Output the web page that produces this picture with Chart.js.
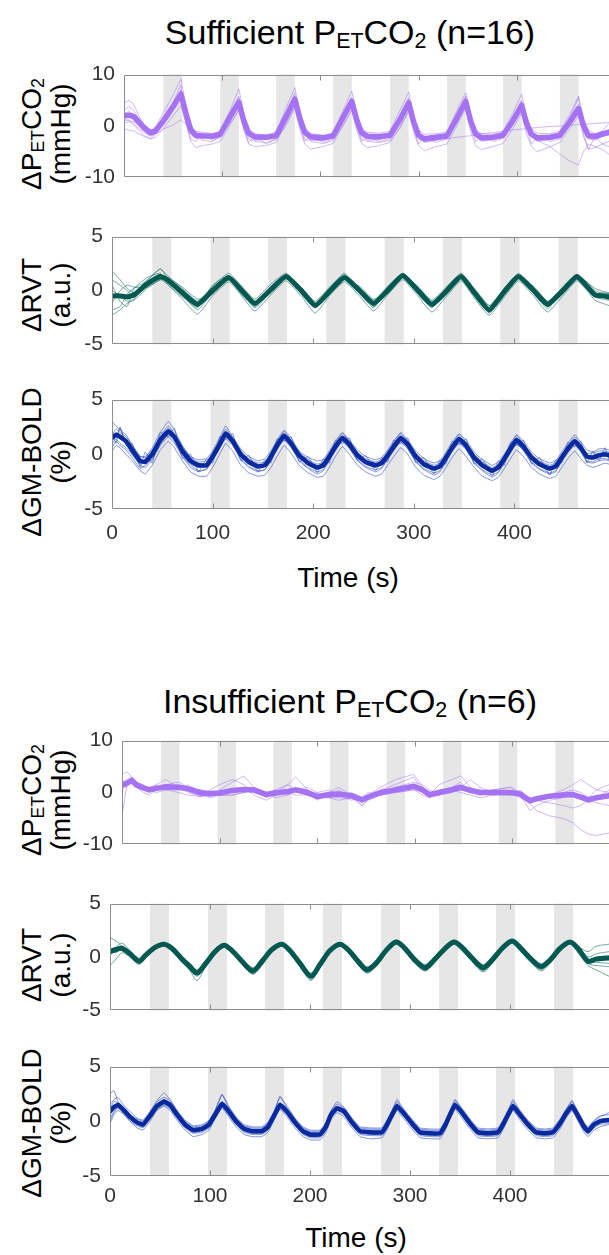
<!DOCTYPE html>
<html>
<head>
<meta charset="utf-8">
<script src="https://cdn.jsdelivr.net/npm/chart.js"></script>
<style>
html,body{margin:0;padding:0;background:#fff;overflow:hidden;}
#wrap{position:relative;width:609px;height:1255px;overflow:hidden;font-family:"Liberation Sans",Arial,Helvetica,sans-serif;color:#000;}
#wrap canvas{position:absolute;left:0;}
.gtitle{position:absolute;left:350px;transform:translateX(-50%);white-space:nowrap;font-size:34px;line-height:34px;}
.ytitle{position:absolute;width:240px;height:58.6px;font-size:28px;line-height:29.3px;text-align:center;white-space:nowrap;transform:translate(-50%,-50%) rotate(-90deg);}
.xtitle{position:absolute;transform:translateX(-50%);font-size:28px;line-height:28px;white-space:nowrap;}
sub{font-size:0.63em;vertical-align:-0.2em;line-height:0;}
</style>
</head>
<body>
<div id="wrap">
  <div class="gtitle" style="top:15px">Sufficient P<sub>ET</sub>CO<sub>2</sub> (n=16)</div>
  <div class="gtitle" style="top:684px">Insufficient P<sub>ET</sub>CO<sub>2</sub> (n=6)</div>
  <div class="ytitle" style="left:45.6px;top:134px">ΔP<sub>ET</sub>CO<sub>2</sub><br>(mmHg)</div>
  <div class="ytitle" style="left:45.6px;top:295px">ΔRVT<br>(a.u.)</div>
  <div class="ytitle" style="left:45.6px;top:462px">ΔGM-BOLD<br>(%)</div>
  <div class="ytitle" style="left:45.6px;top:800px">ΔP<sub>ET</sub>CO<sub>2</sub><br>(mmHg)</div>
  <div class="ytitle" style="left:45.6px;top:965px">ΔRVT<br>(a.u.)</div>
  <div class="ytitle" style="left:45.6px;top:1123px">ΔGM-BOLD<br>(%)</div>
  <div class="xtitle" style="left:348px;top:564px">Time (s)</div>
  <div class="xtitle" style="left:356px;top:1224px">Time (s)</div>
</div>
<script>
// ---------- axis tick values ----------
const petTicks = [-10, 0, 10];
const rvtTicks = [-5, 0, 5];
const boldTicks = [-5, 0, 5];
const timeTicks = [0, 100, 200, 300, 400];

// ---------- grey stimulus blocks (s) ----------
const stimBlocks = [[40,59],[98,117],[155,174],[213,232],[271,290],[329,348],[386,405],[444,463]];

// ---------- Sufficient PETCO2 (n=16) ----------
const tSufPet = [0,5,10,15,20,27,32,40,50,58, 63,68,73,80,90,98,108,117,122,127, 133,145,155,165,174,179,184,190,203,213, 223,232,237,242,248,260,271,281,290,295, 300,306,318,329,339,348,353,358,364,376, 386,396,405,410,415,421,434,444,454,463, 468,473,480,487,494];
const petSufMean = [2.0,2.1,1.8,0.8,-0.3,-1.3,-1.0,1.0,3.8,6.2, 2.5,-0.8,-1.8,-1.9,-2.0,-1.6,1.8,4.6,1.0,-1.4, -2.1,-2.2,-1.9,1.8,5.2,1.5,-1.2,-2.1,-2.3,-1.9, 1.6,4.8,1.2,-1.3,-2.0,-2.1,-1.8,1.2,4.5,0.8, -1.8,-2.5,-2.2,-1.9,1.5,4.8,1.0,-1.5,-2.3,-2.2, -1.8,1.0,4.0,0.5,-1.6,-2.3,-2.2,-1.8,0.8,3.4, 0.0,-1.9,-2.0,-1.6,-1.2];
const petSufSubjects = [
 [4.5,5.0,4.2,2.0,0.5,-0.8,-0.2,2.5,6.0,9.2, 4.0,0.2,-1.0,-1.2,-1.5,-1.0,3.0,7.2,2.5,-0.5, -1.5,-1.8,-1.2,3.5,7.5,3.0,-0.2,-1.5,-1.8,-1.4, 3.0,6.8,2.5,-0.5,-1.2,-1.4,-1.0,3.0,6.6,2.2, -0.8,-1.6,-1.5,-1.2,3.0,6.5,2.5,-0.6,-1.5,-1.6, -1.2,2.5,6.2,2.0,-0.5,-1.4,-1.5,-1.0,2.2,5.8, 1.5,-0.8,-1.5,-1.0,0.5],
 [0.5,0.8,0.2,-0.8,-1.8,-2.5,-2.2,-0.5,2.0,4.0, 0.5,-3.0,-4.2,-3.8,-3.5,-3.0,0.2,3.2,-0.8,-3.5, -4.0,-3.8,-3.2,0.5,3.8,-0.5,-3.5,-4.5,-4.0,-3.4, 0.2,3.0,-0.8,-3.4,-4.2,-3.8,-3.2,-0.2,2.8,-1.2, -3.8,-4.8,-4.0,-3.5,0.0,3.5,-1.0,-3.8,-4.6,-4.0, -3.4,-0.5,2.5,-1.5,-4.0,-5.0,-4.0,-3.2,-0.5,2.0, -2.0,-4.5,-4.2,-3.5,-3.0],
 [1.0,1.2,0.5,-0.5,-1.2,-2.0,-1.6,0.2,3.0,5.5, 2.0,-1.5,-2.5,-2.2,-2.4,-2.0,1.0,4.0,0.5,-2.0, -2.6,-2.5,-2.2,1.2,4.5,1.0,-1.8,-2.6,-2.8,-2.3, 1.0,4.2,0.5,-2.0,-2.5,-2.5,-2.2,0.8,4.0,0.2, -2.3,-3.0,-2.6,-2.3,1.0,4.5,0.5,-2.0,-2.8,-2.6, -2.2,0.5,3.5,0.0,-2.2,-2.8,-2.6,-2.2,0.3,3.0, -0.6,-2.5,-2.8,-2.0,-1.8],
 [3.0,3.8,3.0,1.5,0.0,-1.0,-0.6,1.2,4.5,8.0, 1.0,-2.5,-3.0,-1.5,-2.8,-2.2,2.5,5.8,-0.5,-3.2, -2.0,-3.5,-2.5,2.5,6.5,0.0,-3.0,-2.0,-3.2,-2.5, 2.2,5.5,0.0,-3.0,-2.2,-3.0,-2.5,1.8,5.5,-0.5, -3.5,-2.0,-3.2,-2.5,2.0,5.8,0.2,-3.0,-2.0,-3.0, -2.4,1.5,5.0,-0.5,-3.5,-2.0,-3.0,-2.5,1.5,5.5, -1.5,-4.5,-2.0,-3.5,-4.0],
 [-0.5,-0.8,-1.0,-1.5,-2.0,-2.5,-1.6,-0.6,0.2,1.2, 0.4,-0.6,-1.6,-2.8,-3.0,-2.0,0.5,3.0,0.0,-2.5, -3.0,-3.2,-2.6,0.0,3.5,0.5,-2.5,-3.0,-3.4,-2.8, 0.0,3.2,0.0,-2.5,-3.0,-3.2,-2.8,-0.5,3.0,0.0, -2.5,-3.0,-2.7,-2.5,-2.2,-2.0,-1.9,-1.7,-1.5,-1.3, -1.0,-0.8,-0.6,-0.5,-0.4,-0.3,-0.1,0.0,0.1,0.3, 0.3,0.4,0.5,0.6,0.7],
 [2.5,2.8,2.2,1.0,-0.5,-1.5,-1.2,1.5,4.2,7.0, 3.5,0.0,-1.5,-1.8,-2.0,-1.5,2.2,5.5,1.5,-1.0, -2.0,-2.0,-1.6,2.2,6.0,2.0,-0.8,-1.8,-2.2,-1.7, 2.0,5.5,1.8,-1.0,-1.8,-1.8,-1.5,1.6,5.2,1.2, -1.5,-2.2,-2.0,-1.6,2.0,5.6,1.5,-1.2,-2.0,-2.0, -1.5,1.3,4.8,1.0,-1.5,-2.8,-4.0,-5.5,-6.8,-7.6, -5.0,-3.5,-4.0,-4.5,-5.5],
 [1.5,1.0,0.8,0.2,-0.8,-1.8,-1.5,0.5,3.2,6.8, 3.0,-0.5,-2.2,-2.5,-2.2,-1.8,1.5,5.0,2.0,-1.5, -2.8,-2.6,-2.0,2.0,5.8,2.2,-1.0,-2.8,-2.8,-2.0, 1.8,5.2,2.0,-1.5,-2.8,-2.6,-2.0,1.5,5.0,1.5, -2.0,-3.2,-2.8,-2.2,1.8,5.2,1.8,-1.8,-3.0,-2.6, -2.0,1.2,4.5,1.5,-2.0,-3.0,-2.6,-2.0,1.0,4.2, 0.5,-2.4,-2.6,-2.0,-1.5]
];

// ---------- Sufficient RVT ----------
const tSufRvt = [0,8,15,22,35,48,55,70,85,100, 116,128,142,158,173,188,202,217,231,246, 260,275,289,304,318,333,347,361,375,390, 404,419,433,448,462,472,480,488,494];
const rvtSufMean = [-0.5,-0.5,-0.6,-0.4,0.6,1.3,1.0,-0.2,-1.3,0.0, 1.2,0.1,-1.2,0.1,1.3,0.0,-1.4,0.0,1.2,0.0, -1.2,0.1,1.4,0.0,-1.3,0.0,1.3,-0.3,-1.8,-0.1, 1.3,0.0,-1.3,0.0,1.3,0.4,-0.4,-0.5,-0.6];
const rvtSufSubjects = [
 [1.8,1.0,0.2,-0.2,1.0,2.0,1.4,0.2,-1.0,0.4, 1.6,0.5,-0.8,0.6,1.6,0.3,-1.0,0.4,1.5,0.3, -0.9,0.5,1.6,0.3,-0.9,0.4,1.6,0.0,-1.4,0.2, 1.6,0.3,-1.0,0.3,1.5,0.8,0.2,-0.1,-0.2],
 [-2.3,-1.8,-1.2,-0.9,0.2,1.0,0.6,-0.8,-2.2,-0.5, 0.8,-0.4,-1.9,-0.4,0.9,-0.5,-2.1,-0.4,0.8,-0.5, -1.9,-0.3,1.0,-0.5,-2.0,-0.5,0.9,-0.8,-2.3,-0.6, 0.9,-0.5,-2.0,-0.5,0.9,0.0,-0.9,-1.2,-1.4],
 [0.5,-1.0,-1.5,0.2,1.2,1.6,0.6,-0.6,-1.6,0.5, 1.4,-0.3,-1.5,0.3,1.5,-0.2,-1.6,0.3,1.6,-0.2, -1.6,0.4,1.5,-0.3,-1.6,0.3,1.4,-0.6,-2.0,0.2, 1.4,-0.2,-1.7,0.2,1.4,0.6,-0.6,-0.8,-0.9],
 [-1.2,0.0,0.5,0.3,0.3,1.0,1.2,0.3,-0.8,-0.3, 1.0,0.4,-1.0,-0.2,1.1,0.3,-1.1,-0.3,1.0,0.4, -0.8,-0.2,1.2,0.4,-1.0,-0.3,1.1,0.1,-1.4,-0.4, 1.1,0.4,-1.0,-0.3,1.1,0.8,0.0,-0.3,-0.3],
 [0.0,-0.5,-1.0,-0.8,0.8,1.5,0.8,-0.5,-1.5,0.2, 1.0,-0.2,-1.4,0.3,1.4,-0.2,-1.6,0.2,1.1,-0.2, -1.4,0.2,1.3,-0.2,-1.5,0.2,1.2,-0.5,-1.9,0.0, 1.2,-0.2,-1.5,0.2,1.2,0.2,-0.6,-0.6,-0.8],
 [-1.8,-1.5,-0.3,0.2,0.9,2.0,1.2,0.0,-1.0,0.2, 1.3,0.2,-1.1,0.0,1.2,0.2,-1.2,0.0,1.3,0.2, -1.0,0.0,1.5,0.2,-1.1,0.0,1.4,-0.2,-1.6,0.0, 1.3,0.2,-1.1,0.0,1.4,0.6,-0.2,-0.4,-0.4],
 [1.0,0.5,0.0,-0.6,0.5,1.2,1.1,-0.4,-1.8,-0.2, 1.1,0.0,-1.6,-0.1,1.2,0.0,-1.5,-0.1,1.2,0.1, -1.5,-0.1,1.4,0.1,-1.4,-0.1,1.3,-0.4,-2.1,-0.3, 1.2,0.1,-1.5,-0.1,1.3,0.5,-0.3,-0.2,-0.3]
];

// ---------- Sufficient GM-BOLD ----------
const tSufBold = [0,4,8,14,20,28,33,40,48,56, 62,70,78,86,94,100,107,113,120,128, 136,145,152,158,164,171,178,186,195,204, 210,216,222,229,236,244,252,262,268,274, 280,287,294,302,310,320,326,332,338,345, 352,360,368,378,384,390,396,402,409,417, 425,435,441,447,453,460,466,472,478,484, 490,494];
const boldSufMean = [1.5,1.8,1.6,1.2,0.4,-0.6,-0.7,0.0,1.3,2.1, 1.6,0.3,-0.6,-1.0,-1.0,-0.2,0.9,1.9,1.2,0.0, -0.7,-1.1,-1.0,-0.2,0.8,1.7,1.0,-0.1,-0.8,-1.2, -1.0,-0.2,0.7,1.5,0.9,-0.1,-0.7,-1.0,-0.8,-0.1, 0.7,1.5,0.9,-0.2,-0.9,-1.3,-1.1,-0.3,0.6,1.4, 0.8,-0.3,-1.0,-1.5,-1.2,-0.4,0.5,1.3,0.7,-0.3, -0.9,-1.3,-1.1,-0.3,0.5,1.2,0.6,-0.2,-0.3,-0.1, 0.0,-0.1];
const boldSufSubjects = [
 [3.0,2.6,2.2,1.8,0.8,-0.2,-0.3,0.6,2.0,3.0, 2.2,0.8,-0.2,-0.5,-0.4,0.3,1.5,2.6,1.6,0.5, -0.2,-0.6,-0.4,0.3,1.3,2.2,1.5,0.3,-0.3,-0.6, -0.5,0.3,1.2,2.0,1.3,0.4,-0.2,-0.5,-0.3,0.4, 1.2,2.0,1.3,0.3,-0.4,-0.8,-0.6,0.2,1.1,1.9, 1.3,0.2,-0.5,-1.0,-0.7,0.0,1.0,1.8,1.2,0.2, -0.4,-0.8,-0.6,0.2,1.0,1.8,1.1,0.4,0.2,0.5, 0.5,0.4],
 [0.3,0.8,0.6,0.0,-0.6,-1.5,-1.8,-1.0,0.4,1.2, 0.6,-0.6,-1.6,-2.0,-2.0,-1.2,0.0,1.0,0.3,-1.0, -1.7,-2.0,-1.9,-1.2,-0.2,0.8,0.1,-1.0,-1.7,-2.1, -2.0,-1.2,-0.2,0.7,0.0,-1.0,-1.6,-2.0,-1.8,-1.0, -0.2,0.6,0.0,-1.2,-1.9,-2.3,-2.0,-1.2,-0.3,0.5, -0.2,-1.2,-2.0,-2.4,-2.1,-1.3,-0.4,0.4,-0.2,-1.2, -1.8,-2.2,-2.0,-1.2,-0.4,0.3,-0.4,-1.0,-1.2,-1.0, -0.8,-0.9],
 [2.2,1.0,2.5,0.8,1.0,-1.2,0.2,-0.8,2.0,1.6, 2.4,-0.4,0.0,-1.6,-0.4,-0.8,1.6,1.4,1.9,-0.6, -0.1,-1.6,-0.5,-0.8,1.4,1.2,1.6,-0.7,-0.2,-1.7, -0.4,-0.8,1.3,1.0,1.5,-0.6,-0.1,-1.5,-0.3,-0.7, 1.3,1.0,1.5,-0.8,-0.3,-1.8,-0.5,-0.9,1.2,0.9, 1.4,-0.9,-0.4,-2.0,-0.6,-1.0,1.1,0.8,1.3,-0.9, -0.3,-1.9,-0.5,-0.8,1.1,0.7,1.2,-0.8,0.3,-0.6, 0.6,-0.5],
 [1.0,1.4,1.0,0.6,0.0,-1.0,-1.2,-0.5,0.9,1.8, 1.2,-0.1,-1.0,-1.5,-1.4,-0.6,0.5,1.6,0.9,-0.4, -1.1,-1.5,-1.4,-0.6,0.4,1.4,0.6,-0.5,-1.2,-1.6, -1.4,-0.6,0.3,1.2,0.5,-0.5,-1.1,-1.4,-1.2,-0.5, 0.3,1.2,0.5,-0.6,-1.3,-1.7,-1.5,-0.7,0.2,1.1, 0.4,-0.7,-1.4,-1.9,-1.6,-0.8,0.1,1.0,0.3,-0.7, -1.3,-1.7,-1.5,-0.7,0.1,0.9,0.2,-0.6,-0.7,-0.4, -0.4,-0.5],
 [1.8,2.3,2.0,1.6,0.9,-0.2,-0.2,0.4,1.7,2.6, 1.9,0.7,-0.3,-0.7,-0.6,0.1,1.3,2.3,1.5,0.3, -0.4,-0.8,-0.7,0.1,1.1,2.1,1.3,0.2,-0.5,-0.9, -0.7,0.1,1.0,1.9,1.2,0.2,-0.4,-0.7,-0.5,0.2, 1.0,1.9,1.2,0.1,-0.6,-1.0,-0.8,0.0,0.9,1.8, 1.1,0.0,-0.7,-1.2,-0.9,-0.1,0.8,1.7,1.0,0.0, -0.6,-1.0,-0.8,0.0,0.8,1.6,0.9,0.1,0.1,0.3, 0.3,0.2],
 [0.6,1.2,0.8,0.4,-0.3,-1.3,-1.0,-0.4,0.8,1.6, 1.0,-0.2,-1.2,-1.6,-1.3,-0.5,0.6,1.4,0.8,-0.5, -1.2,-1.6,-1.4,-0.5,0.5,1.3,0.7,-0.6,-1.3,-1.8, -1.5,-0.5,0.4,1.2,0.6,-0.6,-1.2,-1.6,-1.3,-0.4, 0.4,1.1,0.5,-0.7,-1.4,-1.9,-1.6,-0.6,0.3,1.0, 0.5,-0.8,-1.5,-2.1,-1.7,-0.7,0.2,0.9,0.4,-0.8, -1.4,-1.8,-1.6,-0.6,0.2,0.8,0.3,-0.7,-0.8,-0.6, -0.5,-0.6],
 [2.0,1.5,2.4,1.0,0.0,-0.9,-0.4,0.3,1.6,2.4, 1.8,0.1,-0.9,-1.2,-0.8,-0.5,1.2,2.1,1.4,-0.2, -0.9,-1.3,-0.8,-0.4,1.0,1.9,1.2,-0.3,-1.0,-1.4, -0.8,-0.4,0.9,1.7,1.1,-0.3,-0.9,-1.2,-0.6,-0.3, 0.9,1.7,1.1,-0.4,-1.1,-1.5,-0.9,-0.5,0.8,1.6, 1.0,-0.5,-1.2,-1.7,-1.0,-0.6,0.7,1.5,0.9,-0.5, -1.1,-1.5,-0.9,-0.5,0.7,1.4,0.8,-0.4,-0.1,0.1, -0.2,0.2]
];

// ---------- Insufficient PETCO2 (n=6) ----------
const tInsPet = [0,5,10,15,22,28,35,45,58,68, 81,90,100,113,125,135,148,157,170,178, 190,200,212,222,235,246,252,265,280,299, 308,315,325,338,347,357,367,380,398,408, 418,425,438,452,462,470,478,486,499];
const petInsMean = [1.4,1.8,2.3,1.4,0.9,0.5,0.8,1.1,1.0,0.7, -0.1,-0.2,-0.1,0.4,0.6,0.5,-0.4,-0.1,0.2,0.5, 0.0,-0.8,-0.4,-0.3,-0.6,-1.4,-0.9,0.0,0.5,1.2, 0.5,-0.4,0.0,0.5,1.0,0.4,0.0,0.0,0.0,-0.3, -1.6,-1.2,-0.7,-0.5,-0.4,-0.9,-1.4,-1.0,-0.6];
const petInsSubjects = [
 [-4.5,1.5,3.0,2.0,1.2,0.0,1.5,2.5,1.0,0.0, -0.8,-0.5,0.5,2.0,3.2,1.0,-1.0,0.0,1.5,3.0, 0.5,-1.5,0.0,1.0,-0.5,-2.0,-0.5,1.0,2.5,3.5, 1.0,-0.5,1.5,2.5,3.2,1.0,0.0,0.5,1.0,0.0, -2.0,-3.5,-4.5,-5.0,-5.8,-7.2,-8.0,-8.3,-7.8],
 [3.5,4.0,3.0,2.0,1.5,0.5,0.0,0.5,1.5,1.0, 0.5,0.0,-0.5,-0.5,0.0,0.8,0.0,-1.0,-0.5,0.5, 1.0,0.0,-1.0,-1.5,-1.0,-2.5,-1.5,-0.5,1.0,2.0, 1.5,0.5,-0.5,0.0,1.0,2.5,1.0,0.0,-0.5,0.0, -1.0,-1.5,-0.5,0.5,1.5,2.5,1.5,0.5,0.0],
 [1.0,2.0,3.0,1.0,0.0,-0.5,0.5,0.8,0.5,1.5, 0.0,-1.0,-0.5,0.5,1.0,-0.5,-1.5,-0.5,0.5,1.0, -0.5,-1.2,-0.5,0.5,-0.8,-2.5,-1.2,0.5,1.5,3.0, 0.0,-1.0,0.5,1.0,2.0,0.0,-0.5,0.5,1.0,-0.5, -3.5,-2.5,-1.5,-1.0,-0.5,-1.0,-2.0,-1.0,0.5],
 [0.5,1.5,2.0,1.2,0.5,1.0,1.5,0.5,0.0,-0.5, -0.8,0.5,1.5,2.5,1.5,0.0,-0.5,0.5,1.5,0.5, -0.5,0.0,0.5,-0.5,-1.5,-1.0,0.0,-0.5,0.0,0.5, -0.5,-1.0,-0.5,0.5,0.0,-0.5,-1.0,-0.5,0.0,-1.0, -2.0,-1.5,-1.0,-0.5,0.0,-0.5,-1.5,-2.0,-2.5],
 [2.0,2.5,2.8,2.0,1.0,0.2,0.5,1.5,2.0,1.0, -0.5,-0.8,-0.3,0.5,0.5,1.0,0.0,0.5,-0.5,0.5, 0.5,-1.0,-1.0,-0.5,0.0,-1.0,-0.5,0.0,0.5,1.0, 1.0,0.0,-0.5,1.0,1.5,0.0,0.5,-0.5,-0.5,0.5, -1.5,-1.0,-0.5,0.0,0.5,0.0,-1.0,0.5,1.5],
 [1.5,1.0,2.5,1.8,1.0,1.0,1.0,0.5,0.5,0.8, 0.5,0.0,-0.5,-0.5,0.0,0.5,0.0,0.0,0.0,-0.5, -0.5,-0.8,-1.0,-1.0,-1.2,-1.5,-1.0,-0.5,0.0,0.5, 0.5,0.0,0.0,0.5,0.5,0.5,0.2,0.0,0.0,-0.5, -1.0,-1.5,-2.0,-2.5,-3.0,-2.5,-1.5,-1.0,-0.5]
];

// ---------- Insufficient RVT ----------
const tInsRvt = [0,6,12,20,29,36,45,54,62,72, 80,87,95,105,114,122,132,143,152,162, 172,180,190,201,210,220,230,238,248,257, 266,276,286,294,304,315,324,334,344,352, 362,373,382,392,402,410,420,431,440,450, 460,468,478,486,499];
const rvtInsMean = [0.5,0.7,0.8,0.3,-0.4,0.2,0.9,1.2,0.8,-0.2, -0.9,-1.5,-0.7,0.5,1.1,0.6,-0.4,-1.3,-0.4,0.7, 1.2,0.6,-0.6,-1.8,-0.7,0.6,1.2,0.7,-0.4,-1.2, -0.6,0.6,1.4,0.9,-0.2,-1.0,-0.3,0.7,1.4,0.9, -0.1,-1.0,-0.3,0.8,1.5,0.9,-0.1,-0.9,-0.3,0.8, 1.4,0.8,-0.4,-0.2,-0.1];
const rvtInsSubjects = [
 [1.8,1.5,1.0,0.2,-0.6,0.2,1.0,1.3,0.9,-0.4, -1.3,-2.2,-1.0,0.4,1.1,0.5,-0.7,-1.6,-0.6,0.6, 1.2,0.4,-0.9,-2.2,-0.9,0.5,1.2,0.5,-0.7,-1.5, -0.8,0.5,1.3,0.7,-0.5,-1.3,-0.5,0.6,1.3,0.7, -0.4,-1.4,-0.6,0.7,1.4,0.7,-0.4,-1.2,-0.5,0.6, 1.3,1.0,0.5,1.0,1.2],
 [-0.8,-0.2,0.4,0.0,-0.7,0.0,0.8,1.1,0.6,-0.5, -1.2,-1.8,-1.0,0.3,0.9,0.4,-0.7,-1.6,-0.8,0.5, 1.0,0.3,-0.9,-2.1,-1.0,0.4,1.0,0.4,-0.7,-1.5, -0.9,0.4,1.2,0.6,-0.5,-1.3,-0.6,0.5,1.2,0.6, -0.4,-1.3,-0.6,0.6,1.3,0.6,-0.4,-1.3,-0.6,0.5, 1.2,0.4,-0.8,-1.2,-1.8],
 [0.3,0.9,1.3,0.6,-0.2,0.4,1.0,1.3,1.0,0.1, -0.6,-1.2,-0.4,0.7,1.2,0.8,-0.2,-1.0,-0.2,0.8, 1.3,0.8,-0.3,-1.5,-0.4,0.8,1.3,0.9,-0.1,-0.9, -0.3,0.8,1.5,1.1,0.1,-0.7,0.0,0.9,1.5,1.1, 0.2,-0.7,0.0,1.0,1.6,1.1,0.2,-0.6,0.0,1.0, 1.5,1.0,0.0,0.3,0.5],
 [0.8,0.4,0.9,0.5,-0.1,0.0,0.7,1.1,0.7,-0.4, -1.2,-1.6,-0.9,0.4,1.0,0.5,-0.6,-1.4,-0.6,0.6, 1.1,0.5,-0.8,-1.9,-0.9,0.5,1.1,0.6,-0.6,-1.3, -0.8,0.5,1.3,0.8,-0.4,-1.2,-0.5,0.6,1.3,0.8, -0.3,-1.2,-0.5,0.7,1.4,0.8,-0.3,-1.1,-0.4,0.7, 1.3,0.6,-0.6,-0.8,-0.9],
 [0.2,0.6,0.7,0.2,-0.3,0.4,1.0,1.2,0.7,-0.2, -0.8,-1.4,-0.5,0.6,1.2,0.6,-0.3,-1.1,-0.3,0.8, 1.3,0.7,-0.5,-1.6,-0.5,0.7,1.3,0.8,-0.3,-1.0, -0.4,0.7,1.5,1.0,-0.1,-0.8,-0.1,0.8,1.5,1.0, 0.0,-0.8,-0.1,0.9,1.6,1.0,0.0,-0.7,-0.1,0.9, 1.5,0.9,-0.3,0.0,0.1],
 [0.6,0.8,0.6,0.1,-0.5,0.1,0.8,1.1,0.7,-0.2, -0.9,-1.3,-0.6,0.5,1.0,0.5,-0.5,-1.2,-0.5,0.6, 1.1,0.5,-0.7,-1.7,-0.7,0.5,1.1,0.6,-0.5,-1.1, -0.6,0.5,1.3,0.8,-0.3,-0.9,-0.3,0.6,1.3,0.8, -0.2,-0.9,-0.3,0.7,1.4,0.8,-0.2,-0.8,-0.3,0.7, 1.3,0.7,-0.5,-0.5,-0.6]
];

// ---------- Insufficient GM-BOLD ----------
const tInsBold = [0,4,8,14,20,27,33,40,47,54, 60,67,75,83,92,99,105,112,118,126, 134,142,152,158,164,170,177,185,193,200, 210,216,221,227,234,242,250,260,272,277, 282,287,294,302,310,320,330,335,340,345, 352,360,368,378,388,393,398,403,410,418, 426,435,443,450,456,462,468,474,478,484, 490,499];
const boldInsMean = [0.9,1.3,1.5,1.0,0.4,-0.1,-0.3,0.5,1.4,1.8, 1.5,0.6,-0.3,-0.8,-0.7,-0.3,0.6,1.6,1.0,0.0, -0.7,-0.9,-0.9,-0.5,0.5,1.5,0.9,-0.1,-0.9,-1.2, -1.2,-0.5,0.6,1.2,0.9,-0.1,-0.9,-1.0,-1.0,-0.3, 0.6,1.4,0.7,-0.2,-1.0,-1.1,-1.1,-0.4,0.6,1.5, 0.8,-0.2,-1.0,-1.1,-1.0,-0.3,0.6,1.4,0.6,-0.3, -1.0,-1.1,-1.0,-0.2,0.7,1.4,0.5,-0.5,-0.9,-0.3, 0.0,0.1];
const boldInsSubjects = [
 [2.5,2.8,1.8,1.2,0.6,0.2,0.0,0.8,1.8,2.2, 1.9,1.0,0.0,-0.5,-0.4,0.0,0.9,2.4,1.4,0.3, -0.4,-0.6,-0.6,-0.2,0.8,2.3,1.2,0.2,-0.6,-0.9, -0.9,-0.2,0.9,1.6,1.2,0.2,-0.6,-0.7,-0.7,0.0, 0.9,1.8,1.0,0.1,-0.7,-0.8,-0.8,-0.1,0.9,1.9, 1.1,0.1,-0.7,-0.8,-0.7,0.0,0.9,1.8,0.9,0.0, -0.7,-0.8,-0.7,0.1,1.0,1.8,0.8,-0.2,-0.6,0.0, 0.4,0.8],
 [-0.2,0.6,1.0,0.6,0.0,-0.6,-0.8,0.0,1.0,1.4, 1.0,0.1,-0.8,-1.4,-1.2,-0.8,0.2,1.2,0.5,-0.5, -1.2,-1.4,-1.4,-1.0,0.1,1.1,0.4,-0.6,-1.4,-1.7, -1.7,-1.0,0.2,0.8,0.4,-0.6,-1.4,-1.6,-1.5,-0.8, 0.2,1.0,0.2,-0.7,-1.5,-1.6,-1.6,-0.9,0.2,1.1, 0.3,-0.7,-1.5,-1.6,-1.5,-0.8,0.2,1.0,0.1,-0.8, -1.5,-1.6,-1.5,-0.7,0.3,1.0,0.0,-1.0,-1.4,-0.8, -0.5,-0.3],
 [1.5,2.0,2.2,1.4,0.9,0.3,0.1,0.9,1.9,2.6, 2.0,1.0,0.1,-0.4,-0.3,0.1,1.0,2.5,1.5,0.4, -0.3,-0.5,-0.5,-0.1,0.9,2.2,1.4,0.3,-0.5,-0.8, -0.8,-0.1,1.0,1.8,1.3,0.3,-0.5,-0.6,-0.6,0.1, 1.0,2.0,1.1,0.2,-0.6,-0.7,-0.7,0.0,1.0,2.0, 1.2,0.2,-0.6,-0.7,-0.6,0.1,1.0,2.0,1.0,0.1, -0.6,-0.7,-0.6,0.2,1.1,1.9,0.9,-0.1,-0.5,0.1, 0.5,0.6],
 [0.4,0.8,1.2,0.7,0.0,-0.4,-0.6,0.2,1.1,1.5, 1.2,0.3,-0.6,-1.1,-1.0,-0.6,0.3,1.3,0.7,-0.3, -1.0,-1.2,-1.2,-0.8,0.2,1.2,0.6,-0.4,-1.2,-1.5, -1.5,-0.8,0.3,1.0,0.6,-0.4,-1.2,-1.3,-1.3,-0.6, 0.3,1.1,0.4,-0.5,-1.3,-1.4,-1.4,-0.7,0.3,1.2, 0.5,-0.5,-1.3,-1.4,-1.3,-0.6,0.3,1.1,0.3,-0.6, -1.3,-1.4,-1.3,-0.5,0.4,1.1,0.2,-0.8,-1.2,-0.6, -0.3,-0.2],
 [1.2,1.8,1.7,1.2,0.5,0.0,-0.2,0.6,1.6,2.0, 1.7,0.8,-0.1,-0.6,-0.5,-0.1,0.8,1.8,1.2,0.2, -0.5,-0.7,-0.7,-0.3,0.7,1.7,1.1,0.1,-0.7,-1.0, -1.0,-0.3,0.8,1.4,1.1,0.1,-0.7,-0.8,-0.8,-0.1, 0.8,1.6,0.9,0.0,-0.8,-0.9,-0.9,-0.2,0.8,1.7, 1.0,0.0,-0.8,-0.9,-0.8,-0.1,0.8,1.6,0.8,-0.1, -0.8,-0.9,-0.8,0.0,0.9,1.6,0.7,-0.3,-0.7,-0.1, 0.2,0.3],
 [0.0,0.9,1.3,0.8,0.2,-0.3,-0.5,0.3,1.2,1.6, 1.3,0.4,-0.5,-1.0,-0.9,-0.5,0.4,1.4,0.8,-0.2, -0.9,-1.1,-1.1,-0.7,0.3,1.3,0.7,-0.3,-1.1,-1.4, -1.4,-0.7,0.4,1.1,0.7,-0.3,-1.1,-1.2,-1.2,-0.5, 0.4,1.2,0.5,-0.4,-1.2,-1.3,-1.3,-0.6,0.4,1.3, 0.6,-0.4,-1.2,-1.3,-1.2,-0.5,0.4,1.2,0.4,-0.5, -1.2,-1.3,-1.2,-0.4,0.5,1.2,0.3,-0.7,-1.1,-0.5, -0.1,0.0]
];

// ---------- styling ----------
const FONT = '"Liberation Sans", Arial, Helvetica, sans-serif';
const COL = {
  pet:  {mean: 'rgb(164,114,243)', thin: 'rgba(164,114,243,0.5)'},
  rvt:  {mean: 'rgb(0,88,80)',     thin: 'rgba(35,118,108,0.62)'},
  bold: {mean: 'rgb(8,42,158)',    thin: 'rgba(40,72,192,0.58)'}
};
const FRAME = '#8c8c8c';

const panelPlugin = {
  id: 'panelDecor',
  beforeDatasetsDraw(chart) {
    const {ctx, chartArea: a, scales: {x}} = chart;
    ctx.save();
    ctx.fillStyle = '#e6e6e6';
    stimBlocks.forEach(([s, e]) => {
      const x0 = x.getPixelForValue(s), x1 = x.getPixelForValue(e);
      ctx.fillRect(x0, a.top, x1 - x0, a.bottom - a.top);
    });
    ctx.restore();
  },
  afterDatasetsDraw(chart) {
    const {ctx, chartArea: a, scales: {x}} = chart;
    ctx.save();
    ctx.strokeStyle = FRAME;
    ctx.lineWidth = 1;
    const L = Math.round(a.left) + 0.5, T = Math.round(a.top) + 0.5, B = Math.round(a.bottom) - 0.5, R = a.right + 2;
    ctx.beginPath();
    ctx.moveTo(R, T); ctx.lineTo(L, T); ctx.lineTo(L, B); ctx.lineTo(R, B);
    timeTicks.forEach(v => {
      if (v === 0) return;
      const px = Math.round(x.getPixelForValue(v)) + 0.5;
      ctx.moveTo(px, T); ctx.lineTo(px, T + 5);
      ctx.moveTo(px, B); ctx.lineTo(px, B - 5);
    });
    ctx.stroke();
    ctx.restore();
  }
};

const panels = [
  {top: 73,  bottom: 179,  left: 124, xmax: 494, times: tSufPet,  mean: petSufMean,  subs: petSufSubjects,  col: COL.pet,  yTicks: petTicks,  w: 5.5, tension: 0,    xlabels: false},
  {top: 235, bottom: 346,  left: 112, xmax: 494, times: tSufRvt,  mean: rvtSufMean,  subs: rvtSufSubjects,  col: COL.rvt,  yTicks: rvtTicks,  w: 5,   tension: 0.15, xlabels: false},
  {top: 398, bottom: 509,  left: 112, xmax: 494, times: tSufBold, mean: boldSufMean, subs: boldSufSubjects, col: COL.bold, yTicks: boldTicks, w: 4.5, tension: 0.1,  xlabels: true, xpad: 12},
  {top: 739, bottom: 846,  left: 122, xmax: 499, times: tInsPet,  mean: petInsMean,  subs: petInsSubjects,  col: COL.pet,  yTicks: petTicks,  w: 5.5, tension: 0,    xlabels: false},
  {top: 902, bottom: 1012, left: 110, xmax: 499, times: tInsRvt,  mean: rvtInsMean,  subs: rvtInsSubjects,  col: COL.rvt,  yTicks: rvtTicks,  w: 5,   tension: 0.3,  xlabels: false},
  {top: 1065,bottom: 1176, left: 110, xmax: 499, times: tInsBold, mean: boldInsMean, subs: boldInsSubjects, col: COL.bold, yTicks: boldTicks, w: 4.5, tension: 0.1,  xlabels: true, xpad: 8}
];

const wrap = document.getElementById('wrap');
const TOPPAD = 20;

function series(times, vals) {
  const out = [];
  for (let i = 0; i < times.length && i < vals.length; i++) out.push({x: times[i], y: vals[i]});
  return out;
}

panels.forEach(p => {
  const bottomSpace = p.xlabels ? 45 : 20;
  const h = (p.bottom - p.top) + TOPPAD + bottomSpace;
  const cv = document.createElement('canvas');
  cv.width = 609; cv.height = h;
  cv.style.width = '609px'; cv.style.height = h + 'px';
  cv.style.top = (p.top - TOPPAD) + 'px';
  wrap.appendChild(cv);

  const datasets = [{
    data: series(p.times, p.mean), borderColor: p.col.mean, borderWidth: p.w,
    order: 0, tension: p.tension, borderJoinStyle: 'round', borderCapStyle: 'round'
  }];
  p.subs.forEach(s => datasets.push({
    data: series(p.times, s), borderColor: p.col.thin, borderWidth: 1,
    order: 1, tension: p.tension
  }));

  new Chart(cv, {
    type: 'line',
    data: {datasets},
    options: {
      responsive: false, animation: false, events: [],
      layout: {padding: {top: TOPPAD, left: 0, right: 0, bottom: 0}},
      elements: {point: {radius: 0}, line: {fill: false}},
      plugins: {legend: {display: false}, tooltip: {enabled: false}, title: {display: false}},
      scales: {
        x: {
          type: 'linear', min: 0, max: p.xmax,
          grid: {display: false, drawTicks: false}, border: {display: false},
          afterFit(s) { s.height = bottomSpace; },
          afterBuildTicks(s) { s.ticks = timeTicks.map(v => ({value: v})); },
          ticks: {display: p.xlabels, padding: p.xpad || 0, color: '#333', font: {family: FONT, size: 21}, maxRotation: 0, autoSkip: false}
        },
        y: {
          type: 'linear', min: p.yTicks[0], max: p.yTicks[p.yTicks.length - 1],
          grid: {display: false, drawTicks: false}, border: {display: false},
          afterFit(s) { s.width = p.left; },
          afterBuildTicks(s) { s.ticks = p.yTicks.map(v => ({value: v})); },
          ticks: {padding: 9, color: '#333', font: {family: FONT, size: 21}}
        }
      }
    },
    plugins: [panelPlugin]
  });
});
</script>
</body>
</html>
